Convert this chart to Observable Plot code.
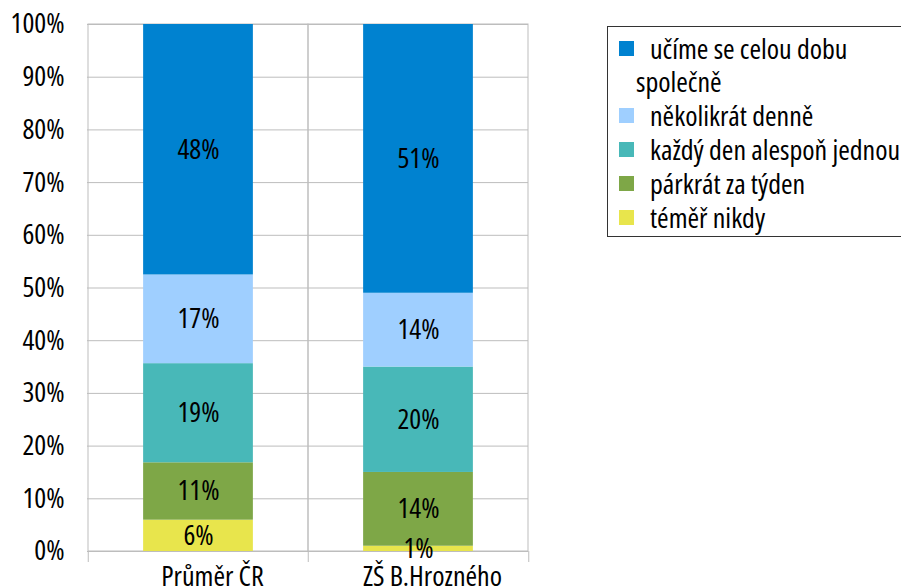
<!DOCTYPE html>
<html>
<head>
<meta charset="utf-8">
<script src="https://cdn.jsdelivr.net/npm/d3@7"></script>
<script src="https://cdn.jsdelivr.net/npm/@observablehq/plot@0.6"></script>
<style>
  html, body { margin: 0; padding: 0; background: #fff; overflow: hidden; }
  #wrap { position: relative; width: 901px; height: 586px; }
  #chart svg text { font-stretch: condensed; font-weight: 400; }
  #legend {
    position: absolute; left: 607px; top: 26px; width: 310px; height: 211px;
    border: 1px solid #333; background: #fff; box-sizing: border-box;
    padding: 5px 0 0 11px;
    font-family: "Open Sans", sans-serif; font-stretch: condensed; font-weight: 400; font-size: 28px; color: #000;
  }
  .row { display: flex; align-items: flex-start; margin-bottom: 1px; }
  .sw { width: 15px; height: 15px; margin-top: 9px; flex: none; }
  .lbl { line-height: 33px; margin-left: 9px; text-indent: 7px; white-space: nowrap; }
  .lbl .cont { display: block; text-indent: 0; margin-left: -7px; }
</style>
</head>
<body>
<div id="wrap"><div id="chart"></div><div id="legend"></div></div>
<script>
const categories = ["Průměr ČR", "ZŠ B.Hrozného"];
const series = ["téměř nikdy", "párkrát za týden", "každý den alespoň jednou", "několikrát denně", "učíme se celou dobu společně"];
const valuesCR = [6, 11, 19, 17, 48];
const valuesZS = [1, 14, 20, 14, 51];
const colors = ["#e8e54c", "#7ea747", "#48b8b8", "#9fcfff", "#0082d0"];
const yTicks = [0, 0.1, 0.2, 0.3, 0.4, 0.5, 0.6, 0.7, 0.8, 0.9, 1];

const data = [];
[valuesCR, valuesZS].forEach((vals, ci) => {
  vals.forEach((v, si) => data.push({cat: categories[ci], series: series[si], value: v}));
});

const W = 901, H = 586, mL = 87, mR = 373, mT = 24, mB = 35;
const half = (W - mL - mR) / categories.length / 2;
const gridColor = "#bdbdbd";
const hasAxisMark = typeof Plot.axisX === "function";

const chart = Plot.plot({
  width: W, height: H,
  marginLeft: mL, marginRight: mR, marginTop: mT, marginBottom: mB,
  style: {fontFamily: "Open Sans, sans-serif", fontSize: "28px", color: "#000", background: "#fff", overflow: "visible"},
  x: hasAxisMark
    ? {domain: categories, padding: 0, axis: null}
    : {domain: categories, padding: 0, label: null, tickSize: 0, tickPadding: 15},
  y: {domain: [0, 1], ticks: yTicks, tickFormat: d => Math.round(d * 100) + "%", label: null, tickSize: 0, tickPadding: 23},
  color: {domain: series, range: colors},
  marks: [
    Plot.ruleY(yTicks, {y: d => d, stroke: gridColor, strokeWidth: 1}),
    Plot.barY(categories, {x: d => d, y1: 0, y2: 1, fill: "none", stroke: gridColor, strokeWidth: 1}),
    Plot.ruleX(categories, {x: d => d, dx: -half, y1: 0, y2: 0, insetBottom: -11, stroke: gridColor}),
    Plot.ruleX(categories.slice(-1), {x: d => d, dx: half, y1: 0, y2: 0, insetBottom: -11, stroke: gridColor}),
    Plot.barY(data, Plot.stackY({x: "cat", y: "value", z: "series", fill: "series", offset: "normalize", insetLeft: half / 2, insetRight: half / 2})),
    Plot.text(data, Plot.stackY({x: "cat", y: "value", z: "series", offset: "normalize", text: d => d.value + "%", fill: "#000", fontSize: 28})),
    hasAxisMark ? Plot.axisX({tickSize: 0, tickPadding: 15, dx: 14, label: null}) : null
  ]
});
document.getElementById("chart").appendChild(chart);

const legend = document.getElementById("legend");
const legendLines = {"učíme se celou dobu společně": ["učíme se celou dobu", "společně"]};
for (let i = series.length - 1; i >= 0; i--) {
  const row = document.createElement("div");
  row.className = "row";
  const sw = document.createElement("div");
  sw.className = "sw";
  sw.style.background = colors[i];
  const lbl = document.createElement("div");
  lbl.className = "lbl";
  const lines = legendLines[series[i]] || [series[i]];
  lbl.appendChild(document.createTextNode(lines[0]));
  lines.slice(1).forEach(t => {
    const s = document.createElement("span");
    s.className = "cont";
    s.textContent = t;
    lbl.appendChild(s);
  });
  row.appendChild(sw);
  row.appendChild(lbl);
  legend.appendChild(row);
}
</script>
</body>
</html>
